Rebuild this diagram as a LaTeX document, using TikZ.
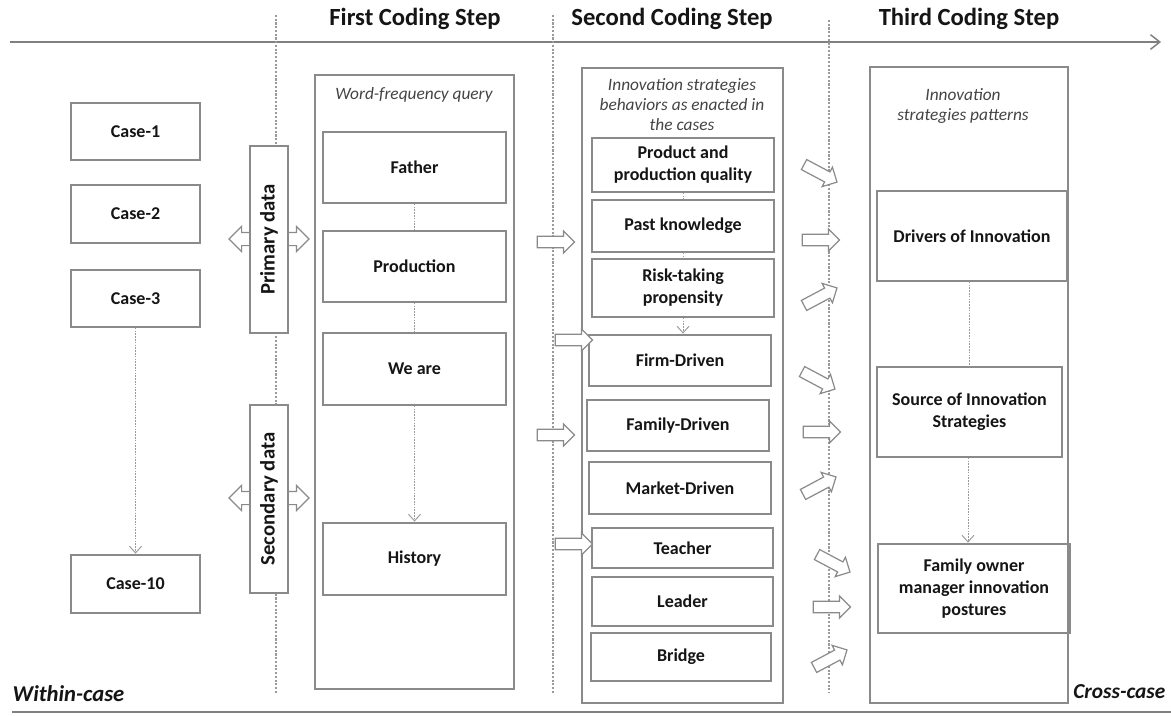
\documentclass[tikz,border=0pt]{standalone}
\usepackage{fontspec}
\setmainfont{Carlito}
\usetikzlibrary{arrows.meta,shapes.arrows}

\definecolor{frame}{HTML}{8A8A8A}
\definecolor{ink}{HTML}{151515}
\definecolor{guide}{HTML}{9A9A9A}
\definecolor{axis}{HTML}{808080}

\tikzset{
  box/.style={draw=frame, line width=1.1pt, inner sep=0pt, align=center,
    font=\fontsize{13.5}{16.5}\selectfont\bfseries, text=ink},
  panel/.style={draw=frame, line width=1.1pt, inner sep=0pt},
  sidebox/.style={draw=frame, fill=white, line width=1.1pt, inner sep=0pt},
  sidelabel/.style={rotate=90, font=\fontsize{15.5}{18}\selectfont\bfseries, text=ink},
  steptitle/.style={font=\fontsize{18.5}{22}\selectfont\bfseries, text=ink},
  note/.style={align=center, font=\fontsize{13}{15}\selectfont\itshape, text=ink!80},
  corner/.style={font=\fontsize{17}{20}\selectfont\bfseries\itshape, text=ink},
  separator/.style={draw=guide, line width=0.8pt, dash pattern=on 1.6pt off 1.2pt},
  link/.style={draw=guide, line width=0.7pt, dash pattern=on 1.2pt off 0.9pt},
  linkto/.style={link, -{Straight Barb[length=5pt,width=9pt]}, shorten >=0.5pt},
  blockarrow/.style={single arrow, draw=frame, fill=white, line width=0.9pt,
    minimum height=28pt, inner xsep=0pt, inner ysep=3.8pt,
    single arrow head extend=4pt},
  dblarrow/.style={double arrow, draw=frame, fill=white, line width=0.9pt,
    minimum height=60pt, inner xsep=0pt, inner ysep=4.5pt,
    double arrow head extend=4.5pt},
}

% a rectangle given by its two corners (in picture units), with centred text
\newcommand\stepnode[7][box]{%
  \pgfmathsetmacro\nodew{abs(#5-#3)*0.75}%
  \pgfmathsetmacro\nodeh{abs(#6-#4)*0.75}%
  \node[#1, minimum width=\nodew pt, minimum height=\nodeh pt]
    (#2) at ({(#3+#5)/2},{(#4+#6)/2}) {#7};}

\begin{document}
\begin{tikzpicture}[x=0.75pt, y=-0.75pt]
\useasboundingbox (0,0) rectangle (1171,715);
\fill[white] (0,0) rectangle (1171,715);

% time axis and phase separators
\coordinate (axL) at (10,42);
\coordinate (axR) at (1161,42);
\draw[axis, line width=1.1pt, -{Straight Barb[length=7pt,width=11pt]}] (axL) -- (axR);
\coordinate (btL) at (12,712);
\coordinate (btR) at (1171,712);
\draw[axis, line width=1.5pt] (btL) -- (btR);

\coordinate (s1t) at (276,15);  \coordinate (s1b) at (276,693);
\coordinate (s2t) at (553,15);  \coordinate (s2b) at (553,693);
\coordinate (s3t) at (829,20);  \coordinate (s3b) at (829,693);
\draw[separator] (s1t) -- (s1b);
\draw[separator] (s2t) -- (s2b);
\draw[separator] (s3t) -- (s3b);

\node[steptitle] (t1) at (415,19) {First Coding Step};
\node[steptitle] (t2) at (672,19) {Second Coding Step};
\node[steptitle] (t3) at (969,19) {Third Coding Step};

\node[corner, anchor=west] (within) at (8,694) {Within-case};
\node[corner, anchor=east, font=\fontsize{16}{19}\selectfont\bfseries\itshape] (cross) at (1170,692) {Cross-case};

% cases
\stepnode{case1}{71}{103}{200}{160}{Case-1}
\stepnode{case2}{71}{185}{200}{243}{Case-2}
\stepnode{case3}{71}{270}{200}{327}{Case-3}
\stepnode{case10}{71}{555}{200}{613}{Case-10}
\draw[linkto] (case3.south) -- (case10.north);

% data sources
\node[dblarrow] (pArr) at (269,239) {};
\stepnode[sidebox]{primary}{250}{146}{288}{333}{}
\node[sidelabel] (primaryLbl) at (primary.center) {Primary data};
\node[dblarrow] (sArr) at (269,498) {};
\stepnode[sidebox]{secondary}{250}{405}{288}{593}{}
\node[sidelabel] (secondaryLbl) at (secondary.center) {Secondary data};

% first coding step
\stepnode[panel]{panel1}{315}{75}{514}{689}{}
\node[note] (wfq) at (414,95) {Word-frequency query};
\stepnode{father}{323}{132}{506}{203}{Father}
\stepnode{production}{323}{231}{506}{302}{Production}
\stepnode{weare}{323}{333}{506}{405}{We are}
\stepnode{history}{323}{523}{506}{595}{History}
\draw[link] (father.south) -- (production.north);
\draw[link] (production.south) -- (weare.north);
\draw[linkto] (weare.south) -- (history.north);

% second coding step
\stepnode[panel]{panel2}{582}{68}{783}{703}{}
\node[note] (isb) at (682,105) {Innovation strategies\\behaviors as enacted in\\the cases};
\stepnode{quality}{592}{138}{774}{192}{Product and\\production quality}
\stepnode{past}{592}{200}{774}{252}{Past knowledge}
\stepnode{risk}{592}{259}{774}{317}{Risk-taking\\propensity}
\stepnode{firm}{589}{335}{771}{386}{Firm-Driven}
\stepnode{family}{587}{400}{769}{451}{Family-Driven}
\stepnode{market}{589}{462}{771}{514}{Market-Driven}
\stepnode{teacher}{592}{528}{773}{568}{Teacher}
\stepnode{leader}{592}{577}{773}{626}{Leader}
\stepnode{bridge}{591}{633}{771}{681}{Bridge}
\draw[link] (quality.south) -- (past.north);
\draw[link] (past.south) -- (risk.north);
\draw[linkto] (risk.south) -- (risk.south |- firm.north);

% third coding step
\stepnode[panel]{panel3}{870}{67}{1068}{703}{}
\node[note] (isp) at (963,106) {Innovation\\strategies patterns};
\stepnode{drivers}{877}{191}{1067}{281}{Drivers of Innovation}
\stepnode{source}{877}{367}{1062}{457}{Source of Innovation\\Strategies}
\stepnode{posture}{878}{544}{1070}{633}{Family owner\\manager innovation\\postures}
\draw[link] (drivers.south -| 969,0) -- (source.north -| 969,0);
\draw[linkto] (source.south -| 968,0) -- (posture.north -| 968,0);

% flows into the second step
\node[blockarrow] (in1) at (553,242) {};
\node[blockarrow] (in2) at (571,340) {};
\node[blockarrow] (in3) at (553,435) {};
\node[blockarrow] (in4) at (571,544) {};

% flows into the third step
\node[blockarrow, rotate=-28] (out1) at (818,172) {};
\node[blockarrow] (out2) at (818,240) {};
\node[blockarrow, rotate=28] (out3) at (818,298) {};
\node[blockarrow, rotate=-28] (out4) at (816,379) {};
\node[blockarrow] (out5) at (819,432) {};
\node[blockarrow, rotate=28] (out6) at (817,487) {};
\node[blockarrow, rotate=-28] (out7) at (831,562) {};
\node[blockarrow] (out8) at (829,607) {};
\node[blockarrow, rotate=28] (out9) at (828,660) {};
\end{tikzpicture}
\end{document}
